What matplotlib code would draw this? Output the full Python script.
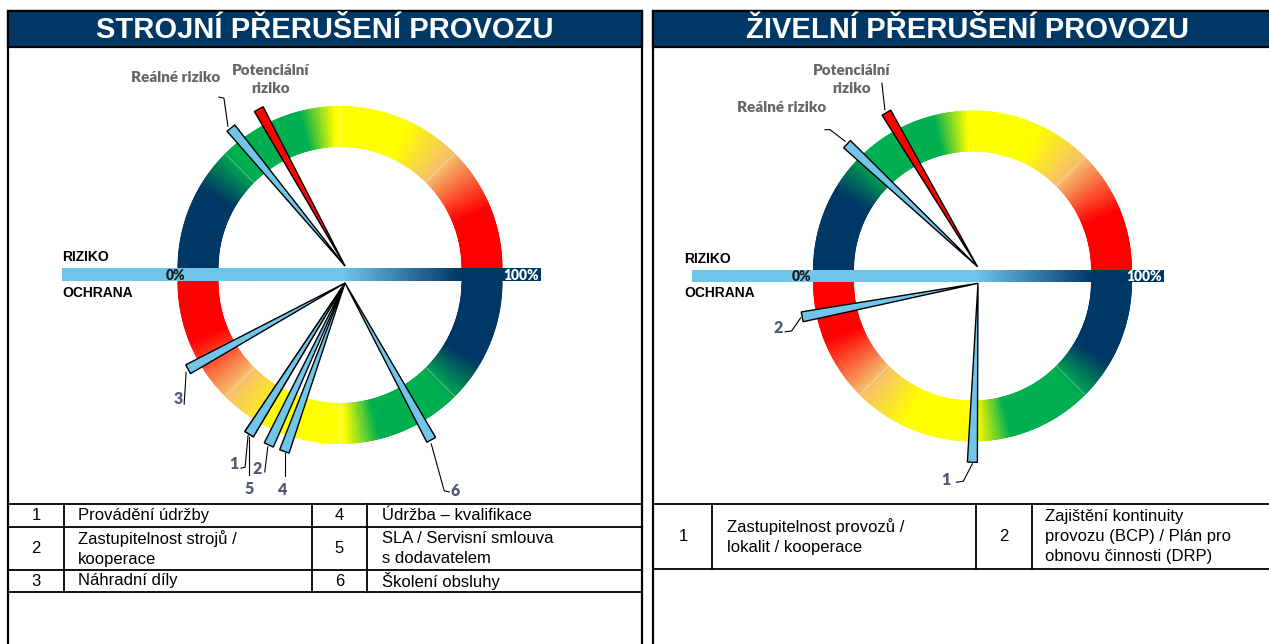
import numpy as np
import matplotlib
matplotlib.use("Agg")
import matplotlib.pyplot as plt
from matplotlib.colors import LinearSegmentedColormap, to_rgb
from matplotlib.patches import Rectangle, Polygon

W, H = 1269, 644

# ---- data -------------------------------------------------------------
strojni_title = "STROJNÍ PŘERUŠENÍ PROVOZU"
zivelni_title = "ŽIVELNÍ PŘERUŠENÍ PROVOZU"

risk_labels = ["Reálné riziko", "Potenciální\nriziko"]
strojni_risk = [28, 34]          # % on RIZIKO scale
zivelni_risk = [24, 33]

strojni_ids = ["1", "2", "3", "4", "5", "6"]
strojni_ochrana = [32, 36, 16, 39, 32, 66]   # % on OCHRANA scale
strojni_names = ["Provádění údržby", "Zastupitelnost strojů /\nkooperace",
                 "Náhradní díly", "Údržba – kvalifikace",
                 "SLA / Servisní smlouva\ns dodavatelem", "Školení obsluhy"]

zivelni_ids = ["1", "2"]
zivelni_ochrana = [49, 6]
zivelni_names = ["Zastupitelnost provozů /\nlokalit / kooperace",
                 "Zajištění kontinuity\nprovozu (BCP) / Plán pro\nobnovu činnosti (DRP)"]

# ---- style ------------------------------------------------------------
NAVY = "#003865"
LIGHT_BLUE = "#70C5E9"
RED = "#FF0000"
NUM_COL = "#4E5A78"
LBL_COL = "#666666"
ARIAL = "Liberation Sans"
CALIBRI = "Lato"

scale_pos = [0, 0.167, 0.26, 0.42, 0.49, 0.64, 0.75, 0.88, 1]
scale_col = [NAVY, NAVY, "#00B050", "#00B050", "#FFFF00", "#FFFF00",
             "#F5BF6E", "#FF0000", "#FF0000"]
cmap = LinearSegmentedColormap.from_list("gauge", list(zip(scale_pos, scale_col)))

NEEDLE_LEN = 179
NEEDLE_HW = 5

# gauge geometry in pixels (ring centre on bar midline)
left_gauge = dict(cx=340, cy=275, bar_h=13, R=162, r=122, x0=-278, x1=201,
                  piv_top=(5, 9), piv_bot=(5, -8), zero_x=-164, lbl_x=-278,
                  lbl_dy=18)
right_gauge = dict(cx=972.5, cy=276, bar_h=12, R=159, r=119, x0=-280.5, x1=191.5,
                   piv_top=(5, 9.3), piv_bot=(5.5, -7.3), zero_x=-171, lbl_x=-288,
                   lbl_dy=17)

# label offsets from needle tip (dx, dy downwards) and leader points
left_risk_lbl = [((-55, -51), [(-3, -2), (-7, -30), (-12, -31)]),
                 ((11.6, -30), [])]
right_risk_lbl = [((-65.5, -37), [(-2, -3), (-17, -14.5), (-22, -14.5)]),
                  ((-34.7, -33.4), [(-1.5, -3), (-4.5, -29.5)])]
left_ids_lbl = [((-15, 30), [(-1, 1.5), (-4, 33), (-8, 34)]),
                ((-11.5, 24), [(-1, 2), (-4, 27)]),
                ((-9.5, 30), [(-2, 3), (-4, 35)]),
                ((-2, 39), [(0.5, 2), (0.5, 25)]),
                ((0, 55), [(0, 3), (0, 41)]),
                ((24, 51), [(0, 4), (13, 51), (18, 52)])]
right_ids_lbl = [((-26.4, 17.6), [(0, 1.5), (-9, 19), (-16, 20)]),
                 ((-24, 11), [(-1.5, 1), (-10.5, 14), (-17, 15)])]


def half_ring(ax, y0, R, r, a0, a1, reverse):
    t = np.linspace(0, 1, 721)
    ang = np.radians(a0 + (a1 - a0) * t)
    rad = np.array([r, R])
    X = rad[:, None] * np.cos(ang)[None, :]
    Y = y0 + rad[:, None] * np.sin(ang)[None, :]
    C = np.tile(1 - t if reverse else t, (2, 1))
    ax.pcolormesh(X, Y, C, cmap=cmap, vmin=0, vmax=1, shading="gouraud", zorder=1)
    # faint seams between the four gradient pieces
    for k in (1, 2, 3):
        a = np.radians(a0 + (a1 - a0) * k / 4)
        ax.plot([r * np.cos(a), R * np.cos(a)], [y0 + r * np.sin(a), y0 + R * np.sin(a)],
                color="white", alpha=0.35, lw=0.7, zorder=2)


def needle(ax, pivot, ang_deg, color):
    a = np.radians(ang_deg)
    d = np.array([np.cos(a), np.sin(a)])
    n = np.array([-d[1], d[0]])
    p = np.array(pivot, dtype=float)
    tip = p + NEEDLE_LEN * d
    ax.add_patch(Polygon([p, tip + NEEDLE_HW * n, tip - NEEDLE_HW * n], closed=True,
                         fc=color, ec="black", lw=1.0, joinstyle="miter", zorder=5))
    return tip


def label(ax, tip, spec, text, color, size):
    (tdx, tdy), leader = spec
    if leader:
        ax.plot([tip[0] + dx for dx, dy in leader], [tip[1] - dy for dx, dy in leader],
                color="black", lw=0.8, zorder=6)
    ax.text(tip[0] + tdx, tip[1] - tdy, text, ha="center", va="center", color=color,
            fontsize=size, fontweight="heavy", family=CALIBRI, linespacing=1.45, zorder=7)


def draw_gauge(fig, g, risk, ochrana, ids, risk_lbl, ids_lbl):
    ax = fig.add_axes([(g["cx"] - 320) / W, (H - g["cy"] - 230) / H, 640 / W, 460 / H])
    hh = g["bar_h"] / 2
    half_ring(ax, hh, g["R"], g["r"], 180, 0, False)
    half_ring(ax, -hh, g["R"], g["r"], 180, 360, True)

    # RIZIKO / OCHRANA bar
    xs = np.linspace(g["x0"], g["x1"], 800)
    frac = np.clip((xs - 3) / 117, 0, 1)[:, None]
    rgb = (1 - frac) * np.array(to_rgb(LIGHT_BLUE)) + frac * np.array(to_rgb(NAVY))
    ax.imshow(rgb[None, :, :], extent=[g["x0"], g["x1"], -hh, hh], aspect="auto",
              interpolation="bilinear", zorder=3)
    ax.text(g["zero_x"], -0.5, "0%", ha="center", va="center", fontsize=10,
            fontweight="heavy", family=CALIBRI, color="#1A1A1A", zorder=4)
    ax.text(g["x1"] - 2, -0.5, "100%", ha="right", va="center", fontsize=10,
            fontweight="heavy", family=CALIBRI, color="white", zorder=4)
    ax.text(g["lbl_x"], g["lbl_dy"], "RIZIKO", ha="left", va="center", fontsize=10,
            fontweight="bold", family=ARIAL, color="black")
    ax.text(g["lbl_x"], -g["lbl_dy"], "OCHRANA", ha="left", va="center", fontsize=10,
            fontweight="bold", family=ARIAL, color="black")

    # risk needles (above the bar)
    for v, col, txt, spec in zip(risk, [LIGHT_BLUE, RED], risk_labels, risk_lbl):
        tip = needle(ax, g["piv_top"], 180 - 1.8 * v, col)
        label(ax, tip, spec, txt, LBL_COL, 11)

    # protection needles (below the bar)
    for v, txt, spec in zip(ochrana, ids, ids_lbl):
        tip = needle(ax, g["piv_bot"], 180 + 1.8 * v, LIGHT_BLUE)
        label(ax, tip, spec, txt, NUM_COL, 11.5)

    ax.set_xlim(-320, 320)
    ax.set_ylim(-230, 230)
    ax.axis("off")
    return ax


fig = plt.figure(figsize=(W / 100, H / 100), dpi=100)
canvas = fig.add_axes([0, 0, 1, 1])
canvas.set_xlim(0, W)
canvas.set_ylim(H, 0)
canvas.axis("off")

# panels + headers
for x0, x1 in [(8, 642), (653, 1290)]:
    canvas.add_patch(Rectangle((x0, 11), x1 - x0, 700, fc="white", ec="black", lw=1.6))
    canvas.add_patch(Rectangle((x0, 11), x1 - x0, 36, fc=NAVY, ec="black", lw=1.6))
tcx = [325, 967]
for cx, title in zip(tcx, [strojni_title, zivelni_title]):
    canvas.text(cx, 30, title, ha="center", va="center", color="white",
                fontsize=21, fontweight="bold", family=ARIAL)

# left table
TLW = 1.3
LS = 1.42
for y in [504, 527, 570, 592]:
    canvas.plot([8, 642], [y, y], color="black", lw=TLW)
for x in [64, 312, 367]:
    canvas.plot([x, x], [504, 592], color="black", lw=TLW)
row_y = [515.5, 548.5, 581]
for i in range(3):
    canvas.text(36, row_y[i], strojni_ids[i], ha="center", va="center", fontsize=12, family=ARIAL)
    canvas.text(78, row_y[i], strojni_names[i], ha="left", va="center", fontsize=12,
                family=ARIAL, linespacing=LS)
    canvas.text(339.5, row_y[i], strojni_ids[i + 3], ha="center", va="center", fontsize=12, family=ARIAL)
    canvas.text(382, row_y[i], strojni_names[i + 3], ha="left", va="center", fontsize=12,
                family=ARIAL, linespacing=LS)

# right table
for y in [504, 569]:
    canvas.plot([653, W], [y, y], color="black", lw=TLW)
for x in [712, 976, 1032]:
    canvas.plot([x, x], [504, 569], color="black", lw=TLW)
canvas.text(683, 536.5, zivelni_ids[0], ha="center", va="center", fontsize=12, family=ARIAL)
canvas.text(727, 536.5, zivelni_names[0], ha="left", va="center", fontsize=12,
            family=ARIAL, linespacing=LS)
canvas.text(1004, 536.5, zivelni_ids[1], ha="center", va="center", fontsize=12, family=ARIAL)
canvas.text(1045, 536.5, zivelni_names[1], ha="left", va="center", fontsize=12,
            family=ARIAL, linespacing=LS)

draw_gauge(fig, left_gauge, strojni_risk, strojni_ochrana, strojni_ids,
           left_risk_lbl, left_ids_lbl)
draw_gauge(fig, right_gauge, zivelni_risk, zivelni_ochrana, zivelni_ids,
           right_risk_lbl, right_ids_lbl)

fig.savefig("out.png", dpi=100)
